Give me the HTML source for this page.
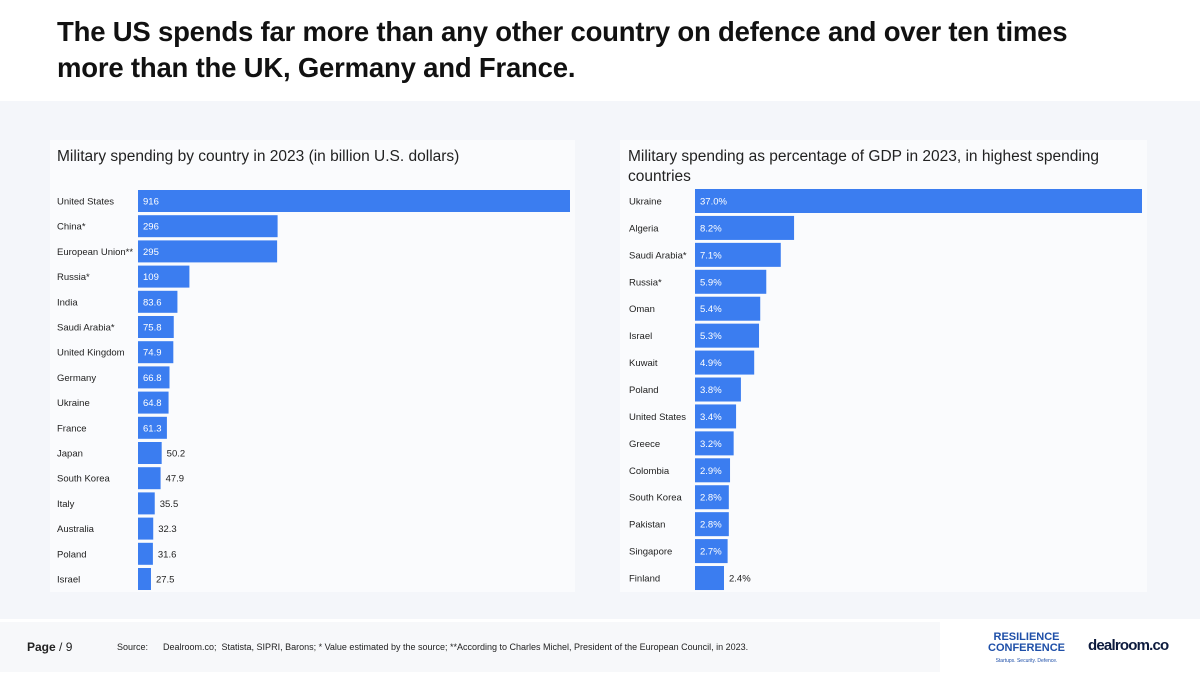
<!DOCTYPE html>
<html><head><meta charset="utf-8"><style>
body{margin:0;width:1200px;height:675px;background:#fff;font-family:"Liberation Sans",sans-serif;position:relative;overflow:hidden}
#title{position:absolute;left:57px;top:14px;font-size:27.5px;font-weight:bold;color:#111;line-height:36px;letter-spacing:-0.2px}
#panel{position:absolute;left:0;top:101px;width:1200px;height:518px;background:#f4f6fa}
svg{position:absolute;left:0;top:0}
#footer-box{position:absolute;left:0;top:622px;width:940px;height:50px;background:#f7f8fa}
.ft{position:absolute;font-size:9px;color:#222}
</style></head><body>
<div id="title">The US spends far more than any other country on defence and over ten times<br>more than the UK, Germany and France.</div>
<div id="panel"></div>
<div id="footer-box"></div>
<div class="ft" style="left:27px;top:640px;font-size:12px"><b>Page</b> / 9</div>
<div class="ft" style="left:117px;top:642px">Source:&nbsp;&nbsp;&nbsp;&nbsp;&nbsp;&nbsp;Dealroom.co;&nbsp; Statista, SIPRI, Barons; * Value estimated by the source; **According to Charles Michel, President of the European Council, in 2023.</div>
<div class="ft" style="left:988px;top:632px;font-size:11px;font-weight:bold;color:#1e4fa8;line-height:11px;text-align:center">RESILIENCE<br>CONFERENCE<br><span style="font-size:5px;font-weight:normal">Startups. Security. Defence.</span></div>
<div class="ft" style="left:1088px;top:637px;font-size:15px;font-weight:bold;color:#0d1b3e;letter-spacing:-0.8px">dealroom.co</div>
<svg id="chart" width="1200" height="675"></svg>
<script>
const leftCats=["United States","China*","European Union**","Russia*","India","Saudi Arabia*","United Kingdom","Germany","Ukraine","France","Japan","South Korea","Italy","Australia","Poland","Israel"];
const leftVals=[916,296,295,109,83.6,75.8,74.9,66.8,64.8,61.3,50.2,47.9,35.5,32.3,31.6,27.5];
const leftLabels=["916","296","295","109","83.6","75.8","74.9","66.8","64.8","61.3","50.2","47.9","35.5","32.3","31.6","27.5"];
const rightCats=["Ukraine","Algeria","Saudi Arabia*","Russia*","Oman","Israel","Kuwait","Poland","United States","Greece","Colombia","South Korea","Pakistan","Singapore","Finland"];
const rightVals=[37.0,8.2,7.1,5.9,5.4,5.3,4.9,3.8,3.4,3.2,2.9,2.8,2.8,2.7,2.4];
const rightLabels=["37.0%","8.2%","7.1%","5.9%","5.4%","5.3%","4.9%","3.8%","3.4%","3.2%","2.9%","2.8%","2.8%","2.7%","2.4%"];
const NS="http://www.w3.org/2000/svg";
const svg=document.getElementById('chart');
function el(t,a){const e=document.createElementNS(NS,t);for(const k in a)e.setAttribute(k,a[k]);svg.appendChild(e);return e;}
function draw(o){
  const bg=el('rect',{x:o.bgx,y:o.bgy,width:o.bgw,height:o.bgh,fill:'#fafbfd'});
  
  
  const t=el('text',{x:o.tx,y:o.ty,'font-size':15.5,fill:'#222'});
  
  
  o.title.forEach((s,i)=>{const ts=document.createElementNS(NS,'tspan');ts.setAttribute('x',o.tx);ts.setAttribute('dy',i?20:0);ts.textContent=s;t.appendChild(ts);});
  const max=Math.max(...o.vals);
  const xs=v=>o.x0+v/max*o.w;
  const ys=i=>o.y0+i*o.step;
  o.cats.forEach((c,i)=>{
    const y=ys(i);
    const lab=el('text',{x:o.lx,y:y+o.bh/2+3.5,'font-size':9.5,fill:'#222'});lab.textContent=c;
    
    
    const r=el('rect',{x:o.x0,y:y,width:xs(o.vals[i])-o.x0,height:o.bh,fill:'#3b7df0'});
    
    
    const inside=xs(o.vals[i])-o.x0>o.min;
    const v=el('text',{x:inside?o.x0+5:xs(o.vals[i])+5,y:y+o.bh/2+3.5,'font-size':9.5,fill:inside?'#fff':'#222'});
    v.textContent=o.labels[i];
    
    
  });
}
draw({name:'spending',cats:leftCats,vals:leftVals,labels:leftLabels,x0:138,w:432,y0:190,step:25.2,bh:22,lx:57,min:28,bgx:50,bgy:140,bgw:525,bgh:452,tx:57,ty:161,title:["Military spending by country in 2023 (in billion U.S. dollars)"]});
draw({name:'gdp-share',cats:rightCats,vals:rightVals,labels:rightLabels,x0:695,w:447,y0:189,step:26.93,bh:24,lx:629,min:30,bgx:620,bgy:140,bgw:527,bgh:452,tx:628,ty:161,title:["Military spending as percentage of GDP in 2023, in highest spending","countries"]});
</script>
</body></html>
